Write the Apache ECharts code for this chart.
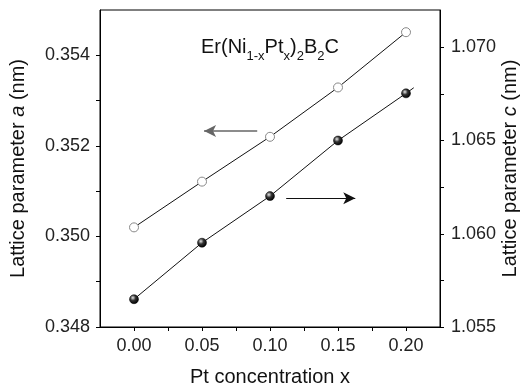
<!DOCTYPE html>
<html><head><meta charset="utf-8">
<script src="https://cdn.jsdelivr.net/npm/echarts@6/dist/echarts.min.js"></script>
<style>html,body{margin:0;padding:0;background:#fff}#c{width:526px;height:391px}</style>
</head><body><div id="c"></div>
<script>
const ptConc = [0.00, 0.05, 0.10, 0.15, 0.20];
const latticeA = [0.35020, 0.35121, 0.35220, 0.35329, 0.35451];
const latticeC = [1.05649, 1.05952, 1.06202, 1.06500, 1.06753];
const cFitEnd = [[0.20, 1.06753], [0.2057, 1.06783]];
const xTicks = [0, 0.025, 0.05, 0.075, 0.10, 0.125, 0.15, 0.175, 0.20];
const xLabels = [0, 0.05, 0.10, 0.15, 0.20];
const aTicks = [0.348, 0.349, 0.350, 0.351, 0.352, 0.353, 0.354];
const aLabels = [0.348, 0.350, 0.352, 0.354];
const cTicks = [1.055, 1.0575, 1.060, 1.0625, 1.065, 1.0675, 1.070];
const cLabels = [1.055, 1.060, 1.065, 1.070];
const arrowA = [[0.0906, 0.35233], [0.0515, 0.35233]];
const arrowC = [[0.1119, 1.0619], [0.1627, 1.0619]];

const font = 'Liberation Sans, Arial, sans-serif';
const chart = echarts.init(document.getElementById('c'), null, {renderer: 'canvas'});
const sphere = {
  type: 'radial', x: 0.38, y: 0.35, r: 0.65,
  colorStops: [{offset: 0, color: '#e8e8e8'}, {offset: 0.45, color: '#333'}, {offset: 1, color: '#000'}]
};
const nameRich = {
  n: {fontSize: 20, fontFamily: font, color: '#111'},
  i: {fontSize: 20, fontFamily: font, fontStyle: 'italic', color: '#111'}
};
chart.setOption({
  animation: false,
  grid: {left: 100, right: 86, top: 10, bottom: 64, containLabel: false, outerBoundsMode: 'none',
    show: true, borderColor: '#000', borderWidth: 1, backgroundColor: 'transparent'},
  title: {
    text: '{n|Er(Ni}{s|1-x}{n|Pt}{s|x}{n|)}{s|2}{n|B}{s|2}{n|C}',
    left: 196, top: 30,
    textStyle: {
      rich: {
        n: {fontSize: 20, fontWeight: 'normal', fontFamily: font, color: '#111', verticalAlign: 'bottom', lineHeight: 22},
        s: {fontSize: 13, fontWeight: 'normal', fontFamily: font, color: '#111', verticalAlign: 'bottom', lineHeight: 16, padding: [0, 0, -6, 0]}
      }
    }
  },
  xAxis: {
    type: 'value', min: -0.025, max: 0.225,
    name: 'Pt concentration x', nameLocation: 'middle', nameGap: 40, nameMoveOverlap: false,
    nameTextStyle: {fontSize: 20, fontFamily: font, color: '#111'},
    axisLine: {show: true, onZero: false, lineStyle: {color: '#000', width: 1}},
    axisTick: {show: true, customValues: xTicks, length: 4, lineStyle: {color: '#000'}},
    axisLabel: {customValues: xLabels, formatter: v => v.toFixed(2), fontSize: 18, fontFamily: font, color: '#222', margin: 10},
    splitLine: {show: false}
  },
  yAxis: [{
    type: 'value', min: 0.348, max: 0.355, position: 'left',
    name: '{n|Lattice parameter }{i|a}{n| (nm)}', nameLocation: 'middle', nameGap: 72, nameRotate: 90, nameMoveOverlap: false,
    nameTextStyle: {rich: nameRich},
    axisLine: {show: true, onZero: false, lineStyle: {color: '#000', width: 1}},
    axisTick: {show: true, customValues: aTicks, length: 4, lineStyle: {color: '#000'}},
    axisLabel: {customValues: aLabels, formatter: v => v.toFixed(3), fontSize: 18, fontFamily: font, color: '#222', margin: 10},
    splitLine: {show: false}
  }, {
    type: 'value', min: 1.055, max: 1.072, position: 'right',
    name: '{n|Lattice parameter }{i|c}{n| (nm)}', nameLocation: 'middle', nameGap: 60, nameRotate: 90, nameMoveOverlap: false,
    nameTextStyle: {rich: nameRich},
    axisLine: {show: true, onZero: false, lineStyle: {color: '#000', width: 1}},
    axisTick: {show: true, customValues: cTicks, length: 4, lineStyle: {color: '#000'}},
    axisLabel: {customValues: cLabels, formatter: v => v.toFixed(3), fontSize: 18, fontFamily: font, color: '#222', margin: 11},
    splitLine: {show: false}
  }],
  series: [{
    type: 'line', yAxisIndex: 0,
    data: ptConc.map((x, i) => [x, latticeA[i]]),
    symbol: 'circle', symbolSize: 9,
    itemStyle: {color: '#fff', borderColor: '#888', borderWidth: 1},
    lineStyle: {color: '#111', width: 1},
    markLine: {
      silent: true, symbol: ['none', 'arrow'], symbolSize: [9, 12],
      lineStyle: {color: '#666', width: 1.5, type: 'solid'}, label: {show: false},
      data: [[{coord: arrowA[0]}, {coord: arrowA[1]}]]
    }
  }, {
    type: 'line', yAxisIndex: 1,
    data: cFitEnd, symbol: 'none',
    lineStyle: {color: '#111', width: 1}
  }, {
    type: 'line', yAxisIndex: 1,
    data: ptConc.map((x, i) => [x, latticeC[i]]),
    symbol: 'circle', symbolSize: 9,
    itemStyle: {color: sphere, borderColor: '#000', borderWidth: 0.5},
    lineStyle: {color: '#111', width: 1},
    markLine: {
      silent: true, symbol: ['none', 'arrow'], symbolSize: [9, 12],
      lineStyle: {color: '#111', width: 1.2, type: 'solid'}, label: {show: false},
      data: [[{coord: arrowC[0]}, {coord: arrowC[1]}]]
    }
  }]
});
</script></body></html>
